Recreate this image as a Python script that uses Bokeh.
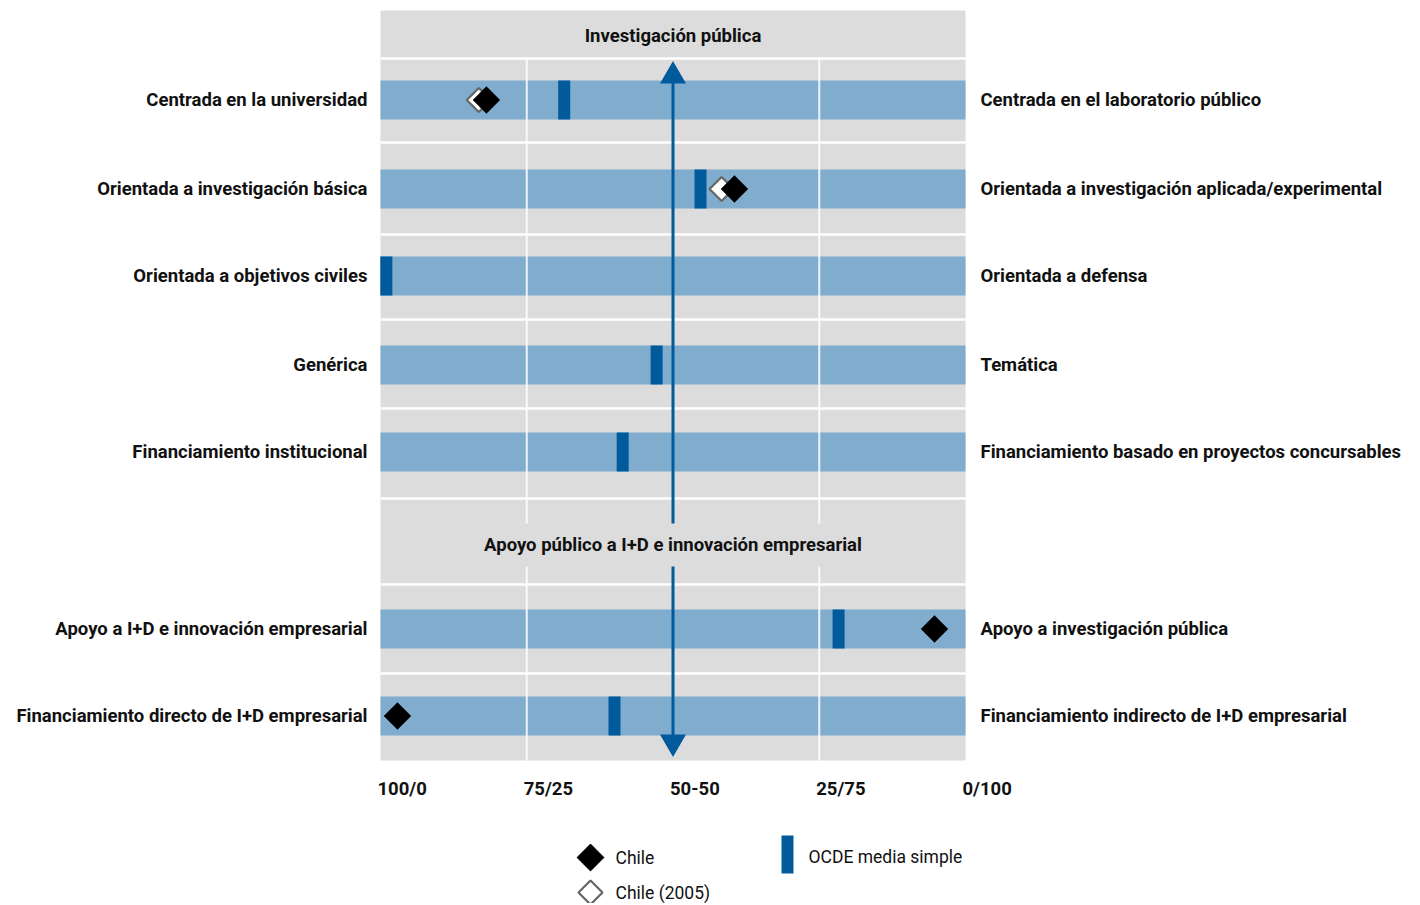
import numpy as np
from bokeh.plotting import figure
from bokeh.models import Range1d
from bokeh.core.properties import value
from bokeh.embed import file_html
from bokeh.resources import INLINE

# ---------------- data ----------------
left_labels = [
    "Centrada en la universidad",
    "Orientada a investigación básica",
    "Orientada a objetivos civiles",
    "Genérica",
    "Financiamiento institucional",
    "Apoyo a I+D e innovación empresarial",
    "Financiamiento directo de I+D empresarial",
]
right_labels = [
    "Centrada en el laboratorio público",
    "Orientada a investigación aplicada/experimental",
    "Orientada a defensa",
    "Temática",
    "Financiamiento basado en proyectos concursables",
    "Apoyo a investigación pública",
    "Financiamiento indirecto de I+D empresarial",
]
section_titles = ["Investigación pública", "Apoyo público a I+D e innovación empresarial"]
ocde = [31.4, 54.7, 1.0, 47.2, 41.4, 78.3, 40.0]
chile = [18.1, 60.5, None, None, None, 94.7, 2.9]
chile_2005 = [16.8, 58.3, None, None, None, None, None]
tick_values = [0, 25, 50, 75, 100]
tick_labels = ["100/0", "75/25", "50-50", "25/75", "0/100"]

# ---------------- layout (page pixel positions) ----------------
W, H = 1416, 903
X0_PAGE, X100_PAGE = 380, 965
SCALE = (X100_PAGE - X0_PAGE) / 100.0


def px(xpage):
    return (xpage - X0_PAGE) / SCALE


row_y = [99.5, 188.5, 275.5, 364.5, 451.5, 628.5, 715.5]
sep_y = [58, 142, 234, 319, 408, 498, 584, 673]
title_y = [35, 544]
BAR_H = 39

FONT = value("Roboto")
GRAY = "#dcdcdc"
BAR = "#80accd"
BLUE = "#005a9c"
TXT = "#111111"
LBL_SIZE = "18.5px"

p = figure(width=W, height=H, output_backend="svg", toolbar_location=None,
           x_range=Range1d(px(0), px(W)), y_range=Range1d(H, 0),
           min_border=0, outline_line_color=None, background_fill_color="white",
           border_fill_color="white")
p.axis.visible = False
p.grid.visible = False

# gray panel
p.quad(left=[0], right=[100], top=[10], bottom=[760], fill_color=GRAY, line_color=None)

# bars
p.hbar(y=row_y, left=0, right=100, height=BAR_H, fill_color=BAR, line_color=None)

# horizontal separators
p.segment(x0=[0] * len(sep_y), x1=[100] * len(sep_y), y0=sep_y, y1=sep_y,
          line_color="white", line_width=2.5)

# vertical gridlines (interrupted behind the second section title)
gx = [25, 75]
p.segment(x0=gx, x1=gx, y0=[58, 58], y1=[523, 523], line_color="white", line_width=2, line_alpha=0.85)
p.segment(x0=gx, x1=gx, y0=[566, 566], y1=[760, 760], line_color="white", line_width=2, line_alpha=0.85)

# OCDE markers
p.rect(x=ocde, y=row_y, width=12, width_units="screen", height=BAR_H,
       fill_color=BLUE, line_color=None)

# Chile markers
c5x = [v for v in chile_2005 if v is not None]
c5y = [row_y[i] for i, v in enumerate(chile_2005) if v is not None]
p.scatter(x=c5x, y=c5y, marker="square", angle=np.pi / 4, size=17,
          fill_color="white", line_color="#666666", line_width=2.2)
cx = [v for v in chile if v is not None]
cy = [row_y[i] for i, v in enumerate(chile) if v is not None]
p.scatter(x=cx, y=cy, marker="square", angle=np.pi / 4, size=19,
          fill_color="black", line_color="black", line_width=0.5)

# central arrow
p.segment(x0=[50, 50], x1=[50, 50], y0=[80, 566], y1=[523, 736], line_color=BLUE, line_width=3)
p.scatter(x=[50], y=[75.5], marker="triangle", size=26, fill_color=BLUE, line_color=None)
p.scatter(x=[50], y=[741.5], marker="inverted_triangle", size=26, fill_color=BLUE, line_color=None)

# section titles
p.text(x=[50, 50], y=title_y, text=section_titles, text_align="center", text_baseline="middle",
       text_font=FONT, text_font_style="bold", text_font_size=LBL_SIZE, text_color=TXT)

# row labels
p.text(x=[0] * len(row_y), y=row_y, text=left_labels, x_offset=-13, text_align="right",
       text_baseline="middle", text_font=FONT, text_font_style="bold",
       text_font_size=LBL_SIZE, text_color=TXT)
p.text(x=[100] * len(row_y), y=row_y, text=right_labels, x_offset=15, text_align="left",
       text_baseline="middle", text_font=FONT, text_font_style="bold",
       text_font_size=LBL_SIZE, text_color=TXT)

# x tick labels
p.text(x=tick_values, y=[788] * len(tick_values), text=tick_labels, x_offset=-3, text_align="left",
       text_baseline="middle", text_font=FONT, text_font_style="bold",
       text_font_size=LBL_SIZE, text_color=TXT)

# legend
p.scatter(x=[px(590)], y=[857], marker="square", angle=np.pi / 4, size=19,
          fill_color="black", line_color="black")
p.scatter(x=[px(590)], y=[892], marker="square", angle=np.pi / 4, size=17,
          fill_color="white", line_color="#666666", line_width=2.2)
p.rect(x=[px(787)], y=[854], width=12, width_units="screen", height=38,
       fill_color=BLUE, line_color=None)
p.text(x=[px(615), px(615), px(808)], y=[857, 892, 856],
       text=["Chile", "Chile (2005)", "OCDE media simple"], text_align="left",
       text_baseline="middle", text_font=FONT, text_font_size="17.5px", text_color=TXT)

open("out.html", "w").write(file_html(p, INLINE))
